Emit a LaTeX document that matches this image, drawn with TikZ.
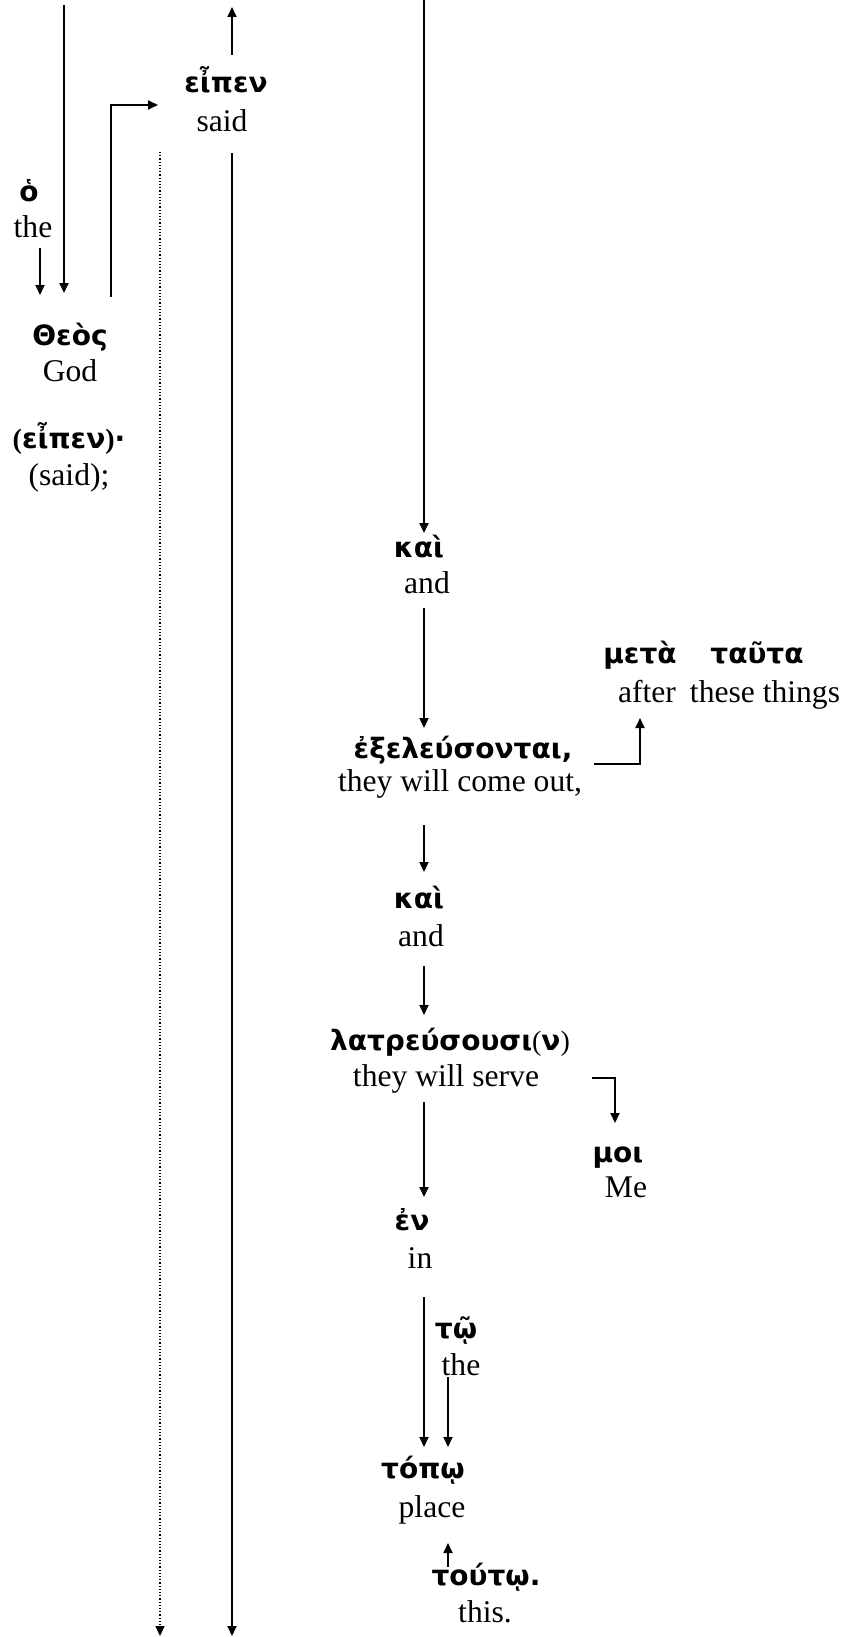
\documentclass[tikz,border=0pt]{standalone}
\usepackage{fontspec}
\setmainfont{Liberation Serif}
\newfontfamily\gkfont{DejaVu Sans}
\usetikzlibrary{arrows.meta,calc}

\tikzset{
  gk/.style={anchor=base, inner sep=0pt, font=\gkfont\bfseries\fontsize{14}{16}\selectfont},
  en/.style={anchor=base, inner sep=0pt, font=\fontsize{15.8}{19}\selectfont},
}

\begin{document}
\begin{tikzpicture}[x=0.5pt, y=-0.5pt, line width=0.9pt, >={Triangle[length=5pt,width=4.5pt]}]
  \useasboundingbox (0,0) rectangle (851,1637);
  \path
  (40,0) coordinate (xa)
  (64,5) coordinate (xb)
  (111,0) coordinate (xc)
  (160,0) coordinate (xd)
  (232,7) coordinate (xe)
  (424,0) coordinate (xf)
  (448,0) coordinate (xg)
  (0,1636) coordinate (bot)
  ;
  % left column
  \node[gk] (ho) at (29,202) {ὁ};
  \node[en] (the1) at (33,238) {the};
  \node[gk] (theos) at (70,345) {Θεὸς};
  \node[en] (god) at (70,381) {God};
  \node[gk] (eipen2) at (69,448) {{\rmfamily(}εἶπεν{\rmfamily)}·};
  \node[en] (said2) at (69,485) {(said);};
  \node[gk] (eipen) at (226,93) {εἶπεν};
  \node[en] (said) at (222,132) {said};
  % right column
  \node[gk] (kai1) at (419,557) {καὶ};
  \node[en] (and1) at (427,593) {and};
  \node[gk] (meta) at (640,663) {μετὰ};
  \node[gk] (tauta) at (757,663) {ταῦτα};
  \node[en] (after) at (647,702) {after};
  \node[en] (things) at (765,702) {these things};
  \node[gk] (exel) at (463,758) {ἐξελεύσονται,};
  \node[en] (out) at (460,791) {they will come out,};
  \node[gk] (kai2) at (419,908) {καὶ};
  \node[en] (and2) at (421,946) {and};
  \node[gk] (latr) at (450,1050) {λατρεύσουσι{\rmfamily\mdseries(}ν{\rmfamily\mdseries)}};
  \node[en] (serve) at (446,1086) {they will serve};
  \node[gk] (moi) at (618,1162) {μοι};
  \node[en] (me) at (626,1197) {Me};
  \node[gk] (en) at (412,1230) {ἐν};
  \node[en] (in) at (420,1268) {in};
  \node[gk] (to) at (456,1338) {τῷ};
  \node[en] (the2) at (461,1375) {the};
  \node[gk] (topo) at (423,1478) {τόπῳ};
  \node[en] (place) at (432,1517) {place};
  \node[gk] (touto) at (486,1585) {τούτῳ.};
  \node[en] (this) at (485,1622) {this.};
  % links, left
  \draw[->, shorten >=26pt] (xb) -- (xb |- theos.base);
  \draw[->, shorten <=5pt, shorten >=25pt] (the1.base -| xa) -- (theos.base -| xa);
  \draw[->] ($(theos.base -| xc)+(0,-48)$) |- ($(eipen.base -| xd)+(-2,12)$);
  \draw[->, shorten <=19pt] (eipen.base -| xe) -- (xe);
  \draw[->, densely dotted, line width=0.6pt, shorten <=10pt] (said.base -| xd) -- (bot -| xd);
  \draw[->, shorten <=10.5pt] (said.base -| xe) -- (bot -| xe);
  % links, right
  \draw[->, shorten >=12pt] (xf) -- (xf |- kai1.base);
  \draw[->, shorten <=7.5pt, shorten >=15pt] (and1.base -| xf) -- (exel.base -| xf);
  \draw[->] ($(exel.base -| meta)+(-46,6)$) -| ($(after.base -| meta)+(0,16)$);
  \draw[->, shorten <=17pt, shorten >=18pt] (out.base -| xf) -- (kai2.base -| xf);
  \draw[->, shorten <=10pt, shorten >=17.5pt] (and2.base -| xf) -- (latr.base -| xf);
  \draw[->] ($(serve.base east)+(52,-8)$) -| ($(moi.base)+(-3,-39)$);
  \draw[->, shorten <=8pt, shorten >=16.5pt] (serve.base -| xf) -- (en.base -| xf);
  \draw[->, shorten <=14.5pt, shorten >=15.5pt] (in.base -| xf) -- (topo.base -| xf);
  \draw[->, shorten <=1pt, shorten >=15.5pt] (the2.base -| xg) -- (topo.base -| xg);
  \draw[->, shorten <=9pt, shorten >=13pt] (touto.base -| xg) -- (place.base -| xg);
\end{tikzpicture}
\end{document}
